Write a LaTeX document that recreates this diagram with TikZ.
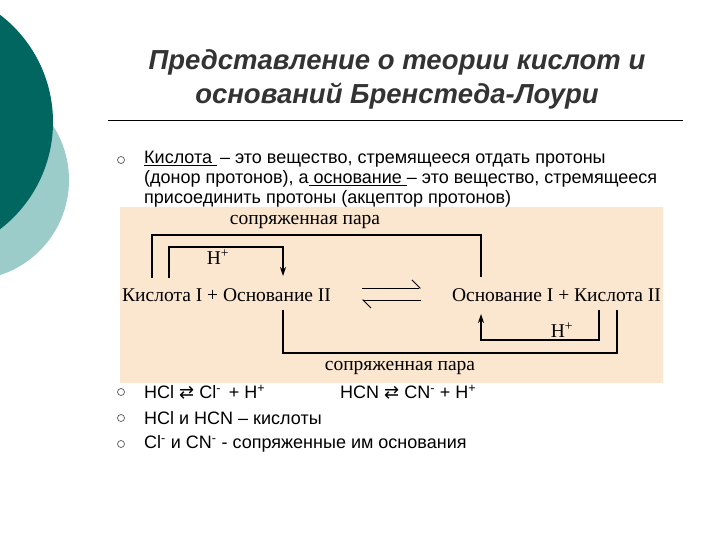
\documentclass[tikz,border=0pt]{standalone}
\usepackage{fontspec}
\setmainfont{Liberation Sans}
\newfontfamily\serifd{Liberation Serif}
\newfontfamily\dvs{DejaVu Sans}
\usetikzlibrary{arrows.meta}
\definecolor{darkteal}{HTML}{00665F}
\definecolor{lightteal}{HTML}{9CCCCA}
\definecolor{beige}{HTML}{FBE6CF}
\begin{document}
\begin{tikzpicture}[x=1pt,y=-1pt,
  dtext/.style={font=\serifd\fontsize{19.5}{22}\selectfont,inner sep=0pt},
  btext/.style={font=\fontsize{18}{20}\selectfont,inner sep=0pt,anchor=west},
  bul/.style={draw=gray!70!black,line width=0.7pt,circle,minimum size=7pt,inner sep=0pt},
  conn/.style={line width=1.2pt},
  arr/.style={line width=1.2pt,-{Stealth[length=9pt,width=6pt]}}]
\useasboundingbox (0,0) rectangle (720,540);
\fill[white] (0,0) rectangle (720,540);
\begin{scope}
\clip (0,0) rectangle (720,540);
\fill[lightteal] (-31,180) circle (100);
\fill[darkteal] (-82,122) circle (135);
\end{scope}
% title
\node[font=\bfseries\itshape\fontsize{27.5}{34}\selectfont,text=black!80,align=center] (title) at (397,79) {Представление о теории кислот и\\оснований Бренстеда-Лоури};
\draw[line width=0.6pt] (108,120) -- (683,120);
% bullet 1
\node[bul] (b1) at (121,160) {};
\node[btext,anchor=north west,align=left] (t1) at (144,151) {\underline{Кислота }\,– это вещество, стремящееся отдать протоны\\(донор протонов), а\underline{ основание }– это вещество, стремящееся\\присоединить протоны (акцептор протонов)};
% box
\fill[beige] (120,207) rectangle (663,383);
\node[dtext] (cp1) at (305,222) {сопряженная пара};
\node[dtext,anchor=west] (left) at (122,295) {Кислота I + Основание II};
\node[dtext,anchor=east] (right) at (661,295) {Основание I + Кислота II};
\node[dtext] (h1) at (218,257) {H\textsuperscript{+}};
\node[dtext] (h2) at (562,330) {H\textsuperscript{+}};
\node[dtext] (cp2) at (400,368) {сопряженная пара};
\coordinate (a1) at (152,278); \coordinate (a2) at (481,277);
\draw[conn] (a1) |- (316,235) -| (a2);
\coordinate (c1) at (169,278); \coordinate (c2) at (283,276);
\draw[conn] (c1) |- (230,247);
\draw[arr] (229.5,247) -| (c2);
\coordinate (d1) at (283,310); \coordinate (d2) at (617,310);
\draw[conn] (d1) |- (450,353) -| (d2);
\coordinate (e1) at (599,310); \coordinate (e2) at (481,314);
\draw[arr] (e1) |- (540,340) -| (e2);
\coordinate (f1) at (362,288); \coordinate (f2) at (421,288);
\coordinate (g1) at (421,300); \coordinate (g2) at (362,300);
\draw[line width=0.9pt,-{Straight Barb[left,length=8pt]}] (f1) -- (f2);
\draw[line width=0.9pt,-{Straight Barb[left,length=8pt]}] (g1) -- (g2);
% bullets
\node[bul] (b2) at (121,392) {};
\node[bul] (b3) at (121,418) {};
\node[bul] (b4) at (121,444) {};
\node[btext] (t2) at (144,392) {HCl {\dvs ⇄} Cl\textsuperscript{-} \,+ H\textsuperscript{+}};
\node[btext] (t2b) at (340,392) {HCN {\dvs ⇄} CN\textsuperscript{-} + H\textsuperscript{+}};
\node[btext] (t3) at (144,418) {HCl и HCN – кислоты};
\node[btext] (t4) at (144,444) {Cl\textsuperscript{-} и CN\textsuperscript{-} - сопряженные им основания};
\end{tikzpicture}
\end{document}
